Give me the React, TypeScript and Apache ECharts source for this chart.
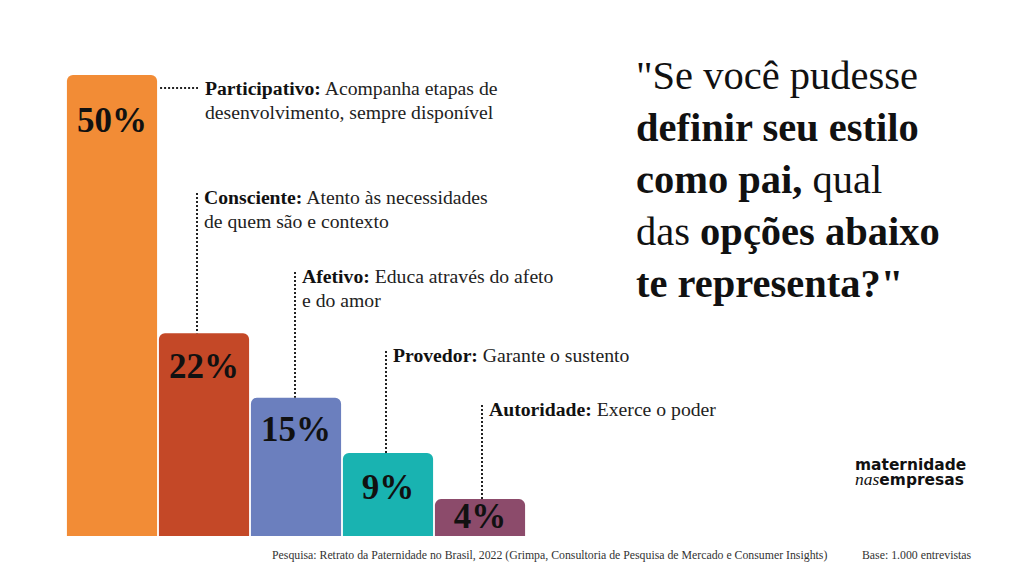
import React, { useEffect, useRef } from "react";
import * as echarts from "echarts";

// ---- data ----
const categories = ["Participativo", "Consciente", "Afetivo", "Provedor", "Autoridade"];
const values = [50, 22, 15, 9, 4];
const descriptions = [
  "Acompanha etapas de\ndesenvolvimento, sempre disponível",
  "Atento às necessidades\nde quem são e contexto",
  "Educa através do afeto\ne do amor",
  "Garante o sustento",
  "Exerce o poder",
];
const sourceText =
  "Pesquisa: Retrato da Paternidade no Brasil, 2022 (Grimpa, Consultoria de Pesquisa de Mercado e Consumer Insights)";
const baseText = "Base: 1.000 entrevistas";

// ---- layout / style ----
const barColors = ["#F28C36", "#C44827", "#6B7FBE", "#19B3B1", "#8C4B6B"];
const annotationY = [88, 197, 276, 355, 409];
const labelOffsets = [45, 33, 32, 34, 17];
const lineDx = [0, -7, -1, -2, 2];
const SERIF = "'Liberation Serif', 'DejaVu Serif', serif";
const SANS = "'DejaVu Sans', sans-serif";

export default function App() {
  const ref = useRef<HTMLDivElement>(null);
  useEffect(() => {
    if (!ref.current) return;
    const chart = echarts.init(ref.current, undefined, { renderer: "svg" });
    const dotted = { stroke: "#222", lineWidth: 2, lineDash: [2, 2] };
    chart.setOption({
      animation: false,
      backgroundColor: "#ffffff",
      grid: { left: 66, right: 498, top: 75, bottom: 40, containLabel: false },
      xAxis: {
        type: "category",
        data: categories,
        show: false,
      },
      yAxis: { type: "value", min: 0, max: 50, show: false },
      series: [
        {
          type: "bar",
          barCategoryGap: "2%",
          data: values.map((v, i) => ({
            value: v,
            itemStyle: { color: barColors[i], borderRadius: [6, 6, 0, 0] },
            label: {
              show: true,
              position: ["50%", labelOffsets[i]],
              align: "center",
              verticalAlign: "middle",
              formatter: v + "%",
              fontFamily: SERIF,
              fontWeight: "bold",
              fontSize: 35,
              color: "#111",
            },
          })),
        },
        {
          type: "custom",
          coordinateSystem: "cartesian2d",
          z: 5,
          silent: true,
          encode: { x: 0, y: 1 },
          data: values.map((v, i) => [i, v]),
          renderItem: (params: any, api: any) => {
            const i = params.dataIndex;
            const top = api.coord([i, values[i]]);
            const bandW = api.size([1, 0])[0];
            const cx = top[0];
            const ty = annotationY[i];
            const children: any[] = [];
            let textX: number;
            if (i === 0) {
              const right = cx + bandW * 0.49;
              textX = cx + 93;
              children.push({
                type: "line",
                shape: { x1: right + 3, y1: ty, x2: textX - 7, y2: ty },
                style: dotted,
              });
            } else {
              const lx = cx + lineDx[i];
              textX = lx + 7;
              children.push({
                type: "line",
                shape: { x1: lx, y1: ty - 4, x2: lx, y2: top[1] },
                style: dotted,
              });
            }
            children.push({
              type: "text",
              x: textX,
              y: ty - 12,
              style: {
                text: "{b|" + categories[i] + ":} " + descriptions[i],
                fontFamily: SERIF,
                fontSize: 19.7,
                lineHeight: 24,
                fill: "#222",
                verticalAlign: "top",
                align: "left",
                rich: {
                  b: { fontFamily: SERIF, fontSize: 19.7, fontWeight: "bold", fill: "#111", lineHeight: 24 },
                },
              },
            });
            return { type: "group", children };
          },
        },
      ],
      graphic: [
        {
          type: "text",
          left: 636,
          top: 55,
          style: {
            text:
              '{r|"Se você pudesse}\n{b|definir seu estilo}\n{b|como pai,}{r| qual}\n{r|das }{b|opções abaixo}\n{b|te representa?"}',
            rich: {
              r: { fontFamily: SERIF, fontSize: 40.5, lineHeight: 52, fill: "#111" },
              b: { fontFamily: SERIF, fontSize: 40.5, fontWeight: "bold", lineHeight: 52, fill: "#111" },
            },
          },
        },
        {
          type: "text",
          left: 272,
          top: 549,
          style: { text: sourceText, fontFamily: SERIF, fontSize: 11.8, fill: "#333" },
        },
        {
          type: "text",
          left: 862,
          top: 549,
          style: { text: baseText, fontFamily: SERIF, fontSize: 11.8, fill: "#333" },
        },
        {
          type: "text",
          x: 855,
          y: 458,
          scaleX: 1.03,
          style: {
            text: "{m|maternidade}",
            rich: {
              m: { fontFamily: SANS, fontWeight: "bold", fontSize: 15, lineHeight: 15, fill: "#111" },
            },
          },
        },
        {
          type: "text",
          x: 855,
          y: 473,
          scaleX: 1.03,
          style: {
            text: "{n|nas}{m|empresas}",
            rich: {
              m: { fontFamily: SANS, fontWeight: "bold", fontSize: 15, lineHeight: 14, fill: "#111" },
              n: { fontFamily: SERIF, fontStyle: "italic", fontSize: 17, lineHeight: 14, fill: "#111" },
            },
          },
        },
      ],
    });
    return () => chart.dispose();
  }, []);
  return (
    <div
      ref={ref}
      style={{ position: "fixed", left: 0, top: 0, width: 1024, height: 576, background: "#fff" }}
    />
  );
}
